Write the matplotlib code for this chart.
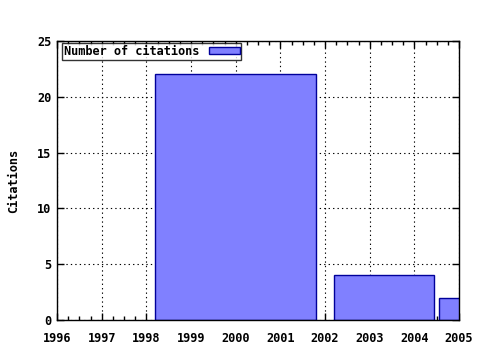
import matplotlib
matplotlib.use("Agg")
import matplotlib.pyplot as plt
from matplotlib.ticker import MultipleLocator

# Data
bar_start = [1998.2, 2002.2, 2004.55]
bar_end = [2001.8, 2004.45, 2005.5]
citations = [22, 4, 2]
year_ticks = [1996, 1997, 1998, 1999, 2000, 2001, 2002, 2003, 2004, 2005]
y_ticks = [0, 5, 10, 15, 20, 25]

font = dict(family="DejaVu Sans Mono", weight="bold", size=8.6)

fig = plt.figure(figsize=(4.8, 3.5), dpi=100)
ax = fig.add_axes([57/480, 30/350, 402/480, 279/350])

widths = [e - s for s, e in zip(bar_start, bar_end)]
ax.bar(bar_start, citations, width=widths, align="edge", color="#8080ff",
       edgecolor="#00009a", linewidth=1.0, label="Number of citations", zorder=3)

ax.set_xlim(1996, 2005)
ax.set_ylim(0, 25)
ax.set_xticks(year_ticks)
ax.set_xticklabels([str(y) for y in year_ticks], **font)
ax.set_yticks(y_ticks)
ax.set_yticklabels([str(y) for y in y_ticks], **font)
ax.xaxis.set_minor_locator(MultipleLocator(0.25))
ax.tick_params(which="both", direction="in", top=True, right=True, color="black")
ax.tick_params(which="major", length=5, width=1, pad=4)
ax.tick_params(axis="x", which="major", pad=9)
ax.tick_params(which="minor", length=3, width=1)
ax.tick_params(axis="y", which="minor", left=False, right=False)
ax.grid(True, which="major", color="black", linestyle=(0, (1.2, 2.8)), linewidth=0.8, zorder=1)
ax.set_axisbelow(True)
for s in ax.spines.values():
    s.set_color("black")
    s.set_linewidth(1)
    s.set_zorder(5)

ax.set_ylabel("Citations", labelpad=12, **font)

leg = ax.legend(loc="upper left", bbox_to_anchor=(0.012, 0.993), frameon=True,
                fancybox=False, markerfirst=False,
                prop=dict(family="DejaVu Sans Mono", weight="bold", size=8.6),
                borderpad=0.15, handlelength=2.6, handleheight=0.5, handletextpad=0.8,
                borderaxespad=0)
leg.get_frame().set_edgecolor("black")
leg.get_frame().set_linewidth(1)

fig.savefig("out.png", dpi=100)
